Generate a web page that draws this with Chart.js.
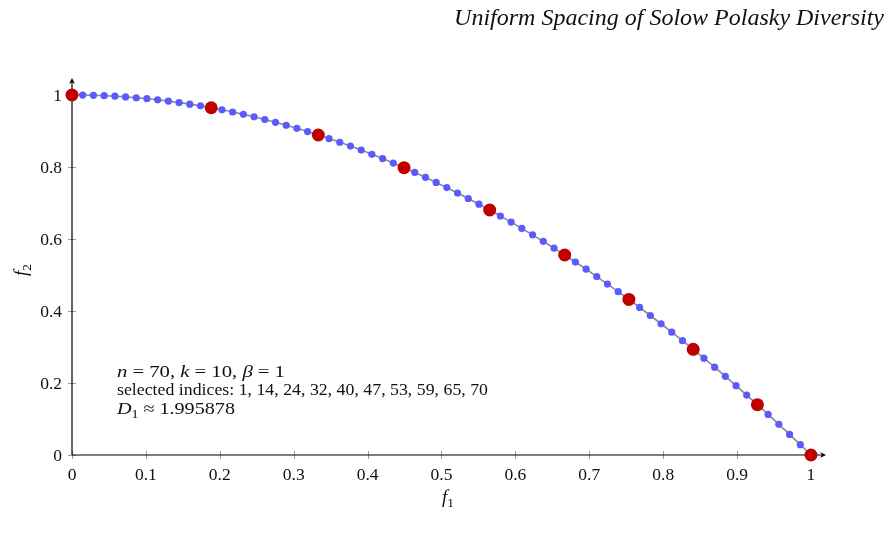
<!DOCTYPE html>
<html>
<head>
<meta charset="utf-8">
<script src="https://cdn.jsdelivr.net/npm/chart.js@4"></script>
<style>
  html, body { margin: 0; padding: 0; background: #fff; }
  canvas { display: block; }
</style>
</head>
<body>
<canvas id="chart" width="888" height="538"></canvas>
<script>
// front points f1 / f2 (n = 70)
const f1Values = [
  0, 0.0145, 0.0290, 0.0435, 0.0580, 0.0725, 0.0870, 0.1014, 0.1159, 0.1304,
  0.1449, 0.1594, 0.1739, 0.1884, 0.2029, 0.2174, 0.2319, 0.2464, 0.2609, 0.2754,
  0.2899, 0.3043, 0.3188, 0.3333, 0.3478, 0.3623, 0.3768, 0.3913, 0.4058, 0.4203,
  0.4348, 0.4493, 0.4638, 0.4783, 0.4928, 0.5072, 0.5217, 0.5362, 0.5507, 0.5652,
  0.5797, 0.5942, 0.6087, 0.6232, 0.6377, 0.6522, 0.6667, 0.6812, 0.6957, 0.7101,
  0.7246, 0.7391, 0.7536, 0.7681, 0.7826, 0.7971, 0.8116, 0.8261, 0.8406, 0.8551,
  0.8696, 0.8841, 0.8986, 0.9130, 0.9275, 0.9420, 0.9565, 0.9710, 0.9855, 1
];
const f2Values = [
  1, 0.9998, 0.9992, 0.9981, 0.9966, 0.9947, 0.9924, 0.9897, 0.9866, 0.9830,
  0.9790, 0.9746, 0.9698, 0.9645, 0.9588, 0.9527, 0.9462, 0.9393, 0.9319, 0.9242,
  0.9160, 0.9074, 0.8983, 0.8889, 0.8790, 0.8687, 0.8580, 0.8469, 0.8353, 0.8234,
  0.8110, 0.7982, 0.7849, 0.7713, 0.7572, 0.7427, 0.7278, 0.7125, 0.6967, 0.6805,
  0.6639, 0.6469, 0.6295, 0.6116, 0.5934, 0.5747, 0.5556, 0.5360, 0.5161, 0.4957,
  0.4749, 0.4537, 0.4321, 0.4100, 0.3875, 0.3646, 0.3413, 0.3176, 0.2934, 0.2689,
  0.2439, 0.2184, 0.1926, 0.1664, 0.1397, 0.1126, 0.0851, 0.0571, 0.0288, 0
];
// 1-based indices of the selected subset
const selectedIndices = [1, 14, 24, 32, 40, 47, 53, 59, 65, 70];

const xTicks = [0, 0.1, 0.2, 0.3, 0.4, 0.5, 0.6, 0.7, 0.8, 0.9, 1];
const yTicks = [0, 0.2, 0.4, 0.6, 0.8, 1];
const xTickLabels = ['0', '0.1', '0.2', '0.3', '0.4', '0.5', '0.6', '0.7', '0.8', '0.9', '1'];
const yTickLabels = ['0', '0.2', '0.4', '0.6', '0.8', '1'];

const allPoints = f1Values.map((x, i) => ({ x: x, y: f2Values[i] }));
const selectedPoints = selectedIndices.map(i => allPoints[i - 1]);

const SERIF = '"Liberation Serif", "DejaVu Serif", serif';

function setFont(ctx, st, size) {
  if (st === 's') ctx.font = (size * 0.7) + 'px ' + SERIF;
  else ctx.font = (st === 'i' ? 'italic ' : '') + size + 'px ' + SERIF;
}

// parts: [text, style]; style 'i' italic, 'r' roman, 's' subscript, 'g' gap (text = px)
function richWidth(ctx, parts, size) {
  let w = 0;
  parts.forEach(([txt, st]) => {
    if (st === 'g') { w += txt; return; }
    setFont(ctx, st, size);
    w += ctx.measureText(txt).width;
  });
  return w;
}

function drawRich(ctx, parts, x, y, size, targetW) {
  const w = richWidth(ctx, parts, size);
  const sx = targetW ? targetW / w : 1;
  ctx.save();
  ctx.translate(x, y);
  ctx.scale(sx, 1);
  let cx = 0;
  parts.forEach(([txt, st]) => {
    if (st === 'g') { cx += txt; return; }
    setFont(ctx, st, size);
    ctx.fillText(txt, cx, st === 's' ? size * 0.22 : 0);
    cx += ctx.measureText(txt).width;
  });
  ctx.restore();
}

const axesPlugin = {
  id: 'pgfAxes',
  beforeDatasetsDraw(chart) {
    const ctx = chart.ctx;
    const xs = chart.scales.x, ys = chart.scales.y;
    const ca = chart.chartArea;
    const x0 = xs.getPixelForValue(0), y0 = ys.getPixelForValue(0);
    ctx.save();

    // ticks
    ctx.strokeStyle = '#9a9a9a';
    ctx.lineWidth = 1;
    xTicks.forEach(v => {
      const px = Math.round(xs.getPixelForValue(v)) + 0.5;
      ctx.beginPath(); ctx.moveTo(px, y0 - 4); ctx.lineTo(px, y0 + 4); ctx.stroke();
    });
    yTicks.forEach(v => {
      const py = Math.round(ys.getPixelForValue(v)) + 0.5;
      ctx.beginPath(); ctx.moveTo(x0 - 4, py); ctx.lineTo(x0 + 4, py); ctx.stroke();
    });

    // axis lines with arrows
    ctx.strokeStyle = '#000';
    ctx.fillStyle = '#000';
    ctx.lineWidth = 1.2;
    ctx.beginPath(); ctx.moveTo(x0, y0); ctx.lineTo(ca.right - 3, y0); ctx.stroke();
    ctx.beginPath(); ctx.moveTo(x0, y0); ctx.lineTo(x0, ca.top + 3); ctx.stroke();
    ctx.beginPath();
    ctx.moveTo(ca.right, y0); ctx.lineTo(ca.right - 6, y0 - 3); ctx.lineTo(ca.right - 4, y0); ctx.lineTo(ca.right - 6, y0 + 3);
    ctx.closePath(); ctx.fill();
    ctx.beginPath();
    ctx.moveTo(x0, ca.top); ctx.lineTo(x0 - 3, ca.top + 6); ctx.lineTo(x0, ca.top + 4); ctx.lineTo(x0 + 3, ca.top + 6);
    ctx.closePath(); ctx.fill();

    // tick labels
    ctx.fillStyle = '#111';
    ctx.font = '17.5px ' + SERIF;
    ctx.textAlign = 'center';
    ctx.textBaseline = 'alphabetic';
    xTicks.forEach((v, i) => {
      ctx.fillText(xTickLabels[i], xs.getPixelForValue(v), y0 + 25);
    });
    ctx.textAlign = 'right';
    yTicks.forEach((v, i) => {
      ctx.fillText(yTickLabels[i], x0 - 10, ys.getPixelForValue(v) + 6);
    });
    ctx.restore();
  },
  afterDraw(chart) {
    const ctx = chart.ctx;
    ctx.save();
    ctx.fillStyle = '#111';
    ctx.textAlign = 'left';
    ctx.textBaseline = 'alphabetic';

    // title, top right
    let ts = 20;
    ctx.font = 'italic ' + ts + 'px ' + SERIF;
    const title = 'Uniform Spacing of Solow Polasky Diversity';
    const tw = ctx.measureText(title).width;
    ts = ts * 430 / tw;
    ctx.font = 'italic ' + ts + 'px ' + SERIF;
    ctx.textAlign = 'right';
    ctx.fillText(title, 884, 25);
    ctx.textAlign = 'left';

    // axis titles
    const xt = [['f', 'i'], ['1', 's']];
    drawRich(ctx, xt, 448 - richWidth(ctx, xt, 19) / 2, 503, 19);
    ctx.save();
    ctx.translate(27, 270);
    ctx.rotate(-Math.PI / 2);
    const yt = [['f', 'i'], ['2', 's']];
    drawRich(ctx, yt, -richWidth(ctx, yt, 19) / 2, 0, 19);
    ctx.restore();

    // annotation block
    const fs = 16.5;
    drawRich(ctx, [['n', 'i'], [4, 'g'], ['=', 'r'], [4, 'g'], ['70, ', 'r'], ['k', 'i'], [4, 'g'], ['=', 'r'], [4, 'g'],
                   ['10, ', 'r'], ['β', 'i'], [4, 'g'], ['=', 'r'], [4, 'g'], ['1', 'r']], 117, 377, fs, 168);
    drawRich(ctx, [['selected indices: ' + selectedIndices.join(', '), 'r']], 117, 395, fs, 371);
    drawRich(ctx, [['D', 'i'], ['1', 's'], [4, 'g'], ['≈', 'r'], [4, 'g'], ['1.995878', 'r']], 117, 414, fs, 118);

    // clipped glyph at the bottom edge
    ctx.font = '13px ' + SERIF;
    ctx.fillText('2', 541, 546);
    ctx.restore();
  }
};

new Chart(document.getElementById('chart'), {
  type: 'scatter',
  data: {
    datasets: [
      {
        label: 'selected',
        data: selectedPoints,
        showLine: false,
        pointRadius: 6.5,
        pointBackgroundColor: '#c00000',
        pointBorderWidth: 0,
        clip: false
      },
      {
        label: 'front',
        data: allPoints,
        showLine: true,
        borderColor: '#8a8a8a',
        borderWidth: 1.6,
        pointRadius: 3.6,
        pointBackgroundColor: '#5a5aff',
        pointBorderWidth: 0,
        clip: false
      }
    ]
  },
  options: {
    responsive: false,
    animation: false,
    layout: { padding: { left: 72, right: 62, top: 78, bottom: 83 } },
    scales: {
      x: { type: 'linear', min: 0, max: 1.0203, display: false },
      y: { type: 'linear', min: 0, max: 1.0472, display: false }
    },
    plugins: {
      legend: { display: false },
      tooltip: { enabled: false }
    }
  },
  plugins: [axesPlugin]
});
</script>
</body>
</html>
